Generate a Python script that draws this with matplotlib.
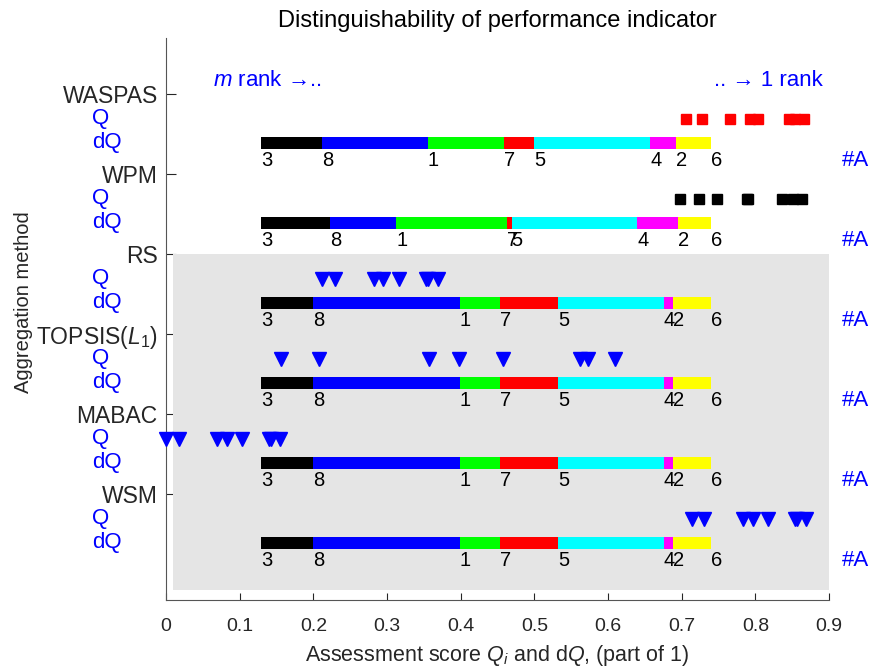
import numpy as np
import matplotlib
matplotlib.use('Agg')
import matplotlib.pyplot as plt
import matplotlib.patches as mpatches

plt.rcParams['font.family'] = ['Liberation Sans', 'DejaVu Sans']
plt.rcParams['mathtext.fontset'] = 'custom'
plt.rcParams['mathtext.rm'] = 'Liberation Sans'
plt.rcParams['mathtext.it'] = 'Liberation Sans:italic'

# Aggregation methods, top to bottom
methods = ['WASPAS', 'WPM', 'RS', r'TOPSIS($\mathit{L}_{\mathit{1}}$)', 'MABAC', 'WSM']

# alternatives in rank order (worst -> best), same for every method
alt_order = [3, 8, 1, 7, 5, 4, 2, 6]

# dQ bar: normalized cumulative boundaries (start of each segment + end)
dq_waspas = [0.129, 0.2116, 0.355, 0.4586, 0.4999, 0.6576, 0.6918, 0.7397]
dq_wpm = [0.129, 0.2223, 0.3126, 0.4633, 0.4692, 0.6399, 0.6948, 0.7397]
dq_rs = [0.129, 0.1997, 0.3989, 0.4532, 0.5324, 0.676, 0.6877, 0.7397]
dq_topsis = [0.129, 0.1997, 0.3989, 0.4532, 0.5324, 0.676, 0.6877, 0.7397]
dq_mabac = [0.129, 0.1997, 0.3989, 0.4532, 0.5324, 0.676, 0.6877, 0.7397]
dq_wsm = [0.129, 0.1997, 0.3989, 0.4532, 0.5324, 0.676, 0.6877, 0.7397]

# Q scores, same order as alt_order
q_waspas = [0.706, 0.7277, 0.7654, 0.7927, 0.8036, 0.8451, 0.8541, 0.8667]
q_wpm = [0.6978, 0.7232, 0.748, 0.7887, 0.7903, 0.8366, 0.8508, 0.8637]
q_rs = [0.2116, 0.2298, 0.2819, 0.2943, 0.3162, 0.3534, 0.3553, 0.3687]
q_topsis = [0.1555, 0.208, 0.357, 0.3971, 0.4568, 0.562, 0.5726, 0.6098]
q_mabac = [0.0, 0.017, 0.0693, 0.0822, 0.1029, 0.1401, 0.1425, 0.1549]
q_wsm = [0.7137, 0.7303, 0.7834, 0.7964, 0.8166, 0.8543, 0.8559, 0.8691]

dq_all = [dq_waspas, dq_wpm, dq_rs, dq_topsis, dq_mabac, dq_wsm]
q_all = [q_waspas, q_wpm, q_rs, q_topsis, q_mabac, q_wsm]
q_style = [('s', 'red'), ('s', 'black'), ('v', 'blue'), ('v', 'blue'), ('v', 'blue'), ('v', 'blue')]

seg_colors = ['#000000', '#0000ff', '#00ff00', '#ff0000', '#00ffff', '#ff00ff', '#ffff00']
txt_gray = '#262626'

fig = plt.figure(figsize=(8.82, 6.68), dpi=100)
ax = fig.add_axes([166 / 882, 68 / 668, 663 / 882, 562 / 668])

# gray background for the weighted-sum family
ax.add_patch(mpatches.Rectangle((0.01, 2.0), 0.89, 4.2, facecolor='#e5e5e5',
                                edgecolor='none', zorder=2.6))

for i in range(len(methods)):
    yq = i + 0.31
    yb = i + 0.61
    bnd = dq_all[i]
    for k in range(len(bnd) - 1):
        ax.barh(yb, bnd[k + 1] - bnd[k], left=bnd[k], height=0.15,
                color=seg_colors[k], zorder=3)
    for k, a in enumerate(alt_order):
        ax.text(bnd[k], yb + 0.22, str(a), ha='left', va='center',
                fontsize=14.5, color='black', zorder=4)
    m, c = q_style[i]
    if m == 's':
        ax.plot(q_all[i], [yq] * len(q_all[i]), linestyle='none', marker='s',
                markersize=7.5, color=c, zorder=4, clip_on=False)
    else:
        ax.plot(q_all[i], [yq] * len(q_all[i]), linestyle='none', marker='v',
                markersize=9.5, color=c, zorder=4, clip_on=False)
    # Q / dQ row labels
    ax.text(-0.1116, yq, 'Q', transform=ax.get_yaxis_transform(), ha='left',
            va='center', fontsize=16, color='blue')
    ax.text(-0.1116, yb, 'dQ', transform=ax.get_yaxis_transform(), ha='left',
            va='center', fontsize=16, color='blue')
    ax.text(0.918, yb + 0.22, '#A', ha='left', va='center', fontsize=16,
            color='blue', clip_on=False)

ax.text(0.064, -0.175, r'$m$ rank →..', ha='left', va='center',
        fontsize=16, color='blue')
ax.text(0.891, -0.175, r'.. → 1 rank', ha='right', va='center',
        fontsize=16, color='blue')

ax.set_xlim(0, 0.9)
ax.set_ylim(6.325, -0.7)
ax.set_yticks(range(len(methods)))
ax.set_yticklabels(methods)
ax.set_xticks(np.arange(0, 0.91, 0.1))
ax.set_xticklabels(['0', '0.1', '0.2', '0.3', '0.4', '0.5', '0.6', '0.7', '0.8', '0.9'])

ax.tick_params(axis='y', direction='in', length=7, pad=6, labelsize=16.5,
               colors=txt_gray)
ax.tick_params(axis='x', direction='in', length=5, pad=13, labelsize=14,
               colors=txt_gray)
for s in ['top', 'right']:
    ax.spines[s].set_visible(False)
for s in ['left', 'bottom']:
    ax.spines[s].set_color('#555555')
    ax.spines[s].set_linewidth(0.8)

ax.set_title('Distinguishability of performance indicator', fontsize=17,
             color='black', pad=8)
ax.set_xlabel(r'Assessment score $Q_i$ and d$Q$, (part of 1)', fontsize=15.5,
              color=txt_gray, labelpad=6)
ax.set_ylabel('Aggregation method', fontsize=14.5, color=txt_gray)
ax.yaxis.set_label_coords(-0.2, 0.53)

fig.savefig('out.png', dpi=100)
